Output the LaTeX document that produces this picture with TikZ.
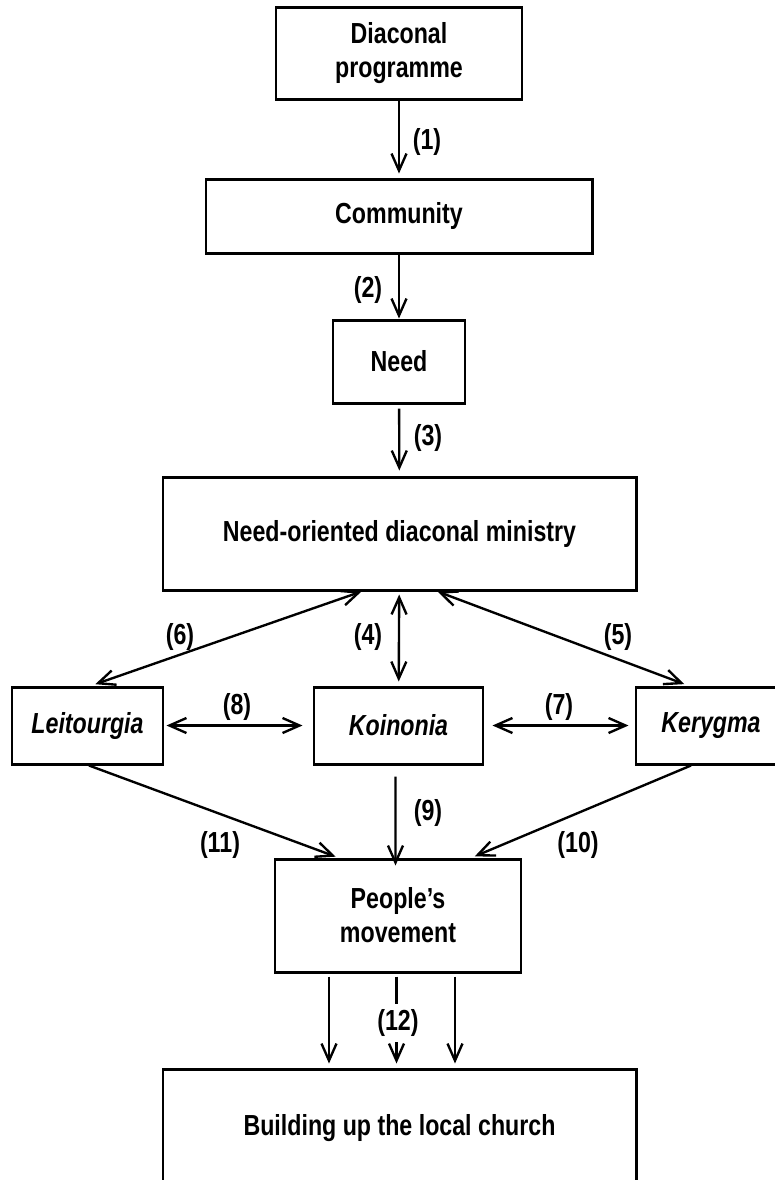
\documentclass[tikz,border=0pt]{standalone}
\usepackage{fontspec}
\setmainfont{Liberation Sans}[FakeStretch=0.8]
\usepackage{tikz}
\usetikzlibrary{arrows.meta,positioning,calc}

\begin{document}
\begin{tikzpicture}[x=0.2mm, y=-0.2mm, every node/.style={font=\bfseries\fontsize{16.5}{19.3}\selectfont}, box/.style={draw,line width=1.7pt,align=center,inner sep=0pt,minimum height=15.4mm}, lbl/.style={inner sep=0pt}, arr/.style={line width=1.35pt,-{Straight Barb[length=3.4mm,width=3mm]}}, biarr/.style={line width=1.35pt,{Straight Barb[length=3.4mm,width=3mm]}-{Straight Barb[length=3.4mm,width=3mm]}}]
    \useasboundingbox (0,0) rectangle (775,1180);
    \clip (0,0) rectangle (775,1180);
    % boxes
    \node[box,minimum width=49.2mm,minimum height=18.4mm] (prog) at (399,53) {Diaconal\\programme};
    \node[box,minimum width=77.2mm,minimum height=14.8mm] (comm) at (399,216) {Community};
    \node[box,minimum width=26.4mm,minimum height=16.6mm] (need) at (399,361.5) {Need};
    \node[box,minimum width=94.6mm,minimum height=22.6mm] (ndm) at (399.5,533.5) {Need-oriented diaconal ministry};
    \node[box,minimum width=30.2mm] (leit) at (87.5,725.5) {\itshape Leitourgia};
    \node[box,minimum width=33.8mm] (koin) at (398.5,725.5) {\itshape Koinonia};
    \node[box,minimum width=30mm] (kery) at (711,725.5) {\itshape Kerygma};
    \node[box,minimum width=49.2mm,minimum height=22.6mm] (people) at (398,915.5) {People's\\movement};
    \node[box,minimum width=94.6mm,minimum height=23.6mm] (church) at (399.5,1128) {Building up the local church};
    % connectors
    \draw[arr,shorten >=0.8mm] (prog) -- (comm);
    \draw[arr] (comm) -- (need);
    \draw[arr,shorten <=0.8mm,shorten >=1mm] (need) -- (ndm);
    \draw[biarr,shorten <=0.6mm,shorten >=0.8mm] (ndm) -- (koin);
    \draw[biarr,shorten >=0.8mm] ($(ndm.south)+(-38,0)$) -- ($(leit.north)+(4,0)$);
    \draw[biarr,shorten >=0.8mm] ($(ndm.south)+(38,0)$) -- ($(kery.north)+(-23,0)$);
    \draw[biarr,shorten <=0.4mm,shorten >=2mm] (leit) -- (koin);
    \draw[biarr,shorten <=1.6mm,shorten >=1.2mm] (koin) -- (kery);
    \draw[arr,shorten <=2.2mm,shorten >=-1.6mm] ($(koin.south)+(-3,0)$) -- ($(people.north)+(-2.5,0)$);
    \draw[arr,shorten >=0.5mm] ($(leit.south)+(1.5,0)$) -- ($(people.north)+(-60,0)$);
    \draw[arr,shorten >=0.6mm] ($(kery.south)+(-20,0)$) -- ($(people.north)+(74,0)$);
    \foreach \dx/\nm in {-69/a,-1.5/b,57/c}{
      \coordinate (p\nm) at ($(people.south)+(\dx,0)$);
      \draw[arr,shorten <=0.6mm,shorten >=0.8mm] (p\nm) -- (p\nm |- church.north);
    }
    % labels
    \foreach \n/\x/\y in {1/427/142,2/368/290,3/428/438,4/368/637,5/618/637,6/180/637,7/559/707,8/237/707,9/428/813,10/578/845,11/220/845}{
      \node[lbl] (l\n) at (\x,\y) {(\n)};
    }
    \node[lbl,fill=white,inner sep=1mm] (l12) at (398,1023) {(12)};
\end{tikzpicture}
\end{document}
